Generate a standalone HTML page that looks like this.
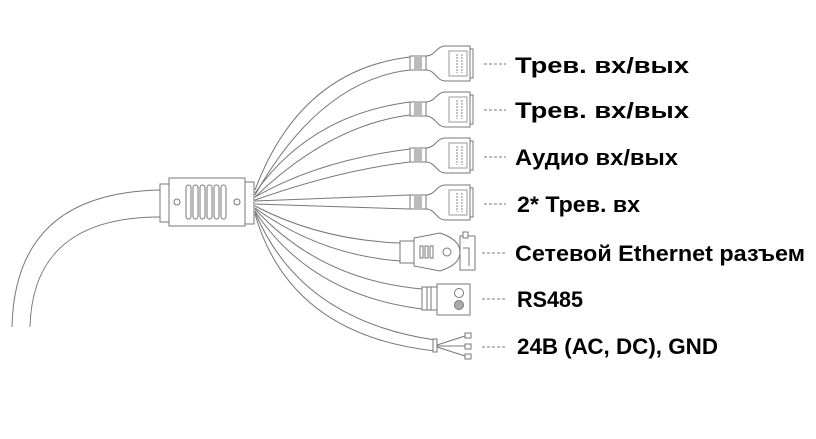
<!DOCTYPE html>
<html><head><meta charset="utf-8"><style>
html,body{margin:0;padding:0;background:#fff;width:816px;height:439px;overflow:hidden}
svg{display:block}
text{font-family:"Liberation Sans",sans-serif;font-weight:bold;font-size:22px;fill:#000}
</style></head><body>
<svg width="816" height="439" viewBox="0 0 816 439" xmlns="http://www.w3.org/2000/svg">
<defs>
<g id="c" fill="#fff" stroke="#777" stroke-width="1">
  <rect x="-55" y="-7" width="16" height="14"/>
  <rect x="-51" y="-7" width="8" height="14" fill="#bbb" stroke="none"/>
  <path d="M-39,-7 C-30,-7 -28,-17 -20,-17 L5,-17 L5,18 L-20,18 C-28,18 -30,7 -39,7 Z"/>
  <rect x="-16" y="-12" width="18" height="25" stroke="#999"/>
  <line x1="-8" y1="-9" x2="-8" y2="10" stroke="#888" stroke-dasharray="2,1"/>
  <line x1="-3" y1="-9" x2="-3" y2="10" stroke="#888" stroke-dasharray="2,1"/>
  <rect x="5" y="-14" width="3" height="29"/>
</g>
</defs>
<g fill="none" stroke="#777" stroke-width="1">
  <path d="M12,327 C14,240 60,192 160,190"/>
  <path d="M30,327 C32,250 80,217 160,217"/>
  <path d="M255,190 Q300,70 410,57"/><path d="M255,195 Q320,80 410,70"/>
  <path d="M255,193 Q310,115 410,102"/><path d="M255,197 Q330,125 410,115"/>
  <path d="M255,197 Q320,160 410,149"/><path d="M255,200 Q340,170 410,162"/>
  <path d="M255,201 L410,195"/><path d="M255,204 L410,209"/>
  <path d="M255,206 Q320,240 400,243"/><path d="M255,208 Q320,255 400,261"/>
  <path d="M255,209 Q320,280 422,289"/><path d="M255,211 Q310,295 422,309"/>
  <path d="M255,212 Q300,320 435,340"/><path d="M255,214 Q290,335 435,351"/>
</g>
<g fill="#fff" stroke="#777" stroke-width="1">
  <rect x="160" y="184" width="9" height="38"/>
  <rect x="169" y="178" width="76" height="48"/>
  <rect x="245" y="182" width="9" height="42"/>
  <circle cx="177" cy="202" r="3"/><circle cx="237" cy="202" r="3"/>
  <rect x="186" y="185" width="5" height="34" rx="2.5"/>
  <rect x="193" y="185" width="5" height="34" rx="2.5"/>
  <rect x="200" y="185" width="5" height="34" rx="2.5"/>
  <rect x="207" y="185" width="5" height="34" rx="2.5"/>
  <rect x="214" y="185" width="5" height="34" rx="2.5"/>
  <rect x="221" y="185" width="5" height="34" rx="2.5"/>
</g>
<use href="#c" x="465" y="63"/>
<use href="#c" x="465" y="109"/>
<use href="#c" x="465" y="155"/>
<use href="#c" x="465" y="202"/>
<g fill="#fff" stroke="#777" stroke-width="1">
  <rect x="400" y="241" width="14" height="22"/>
  <path d="M414,238 L440,233 C455,238 460,245 460,252 C460,260 455,266 440,271 L414,266 Z"/>
  <circle cx="447" cy="252" r="4"/>
  <rect x="420" y="246" width="3" height="12"/><rect x="425" y="246" width="3" height="12"/><rect x="430" y="246" width="3" height="12"/>
  <rect x="460" y="236" width="15" height="34"/>
  <rect x="463" y="232" width="5" height="6"/>
  <path d="M463,248 L469,248 L469,266"/>
</g>
<g fill="#fff" stroke="#777" stroke-width="1">
  <rect x="422" y="287" width="15" height="23"/>
  <line x1="427" y1="287" x2="427" y2="310"/><line x1="431" y1="287" x2="431" y2="310"/>
  <rect x="437" y="284" width="33" height="31"/>
  <circle cx="459" cy="293" r="4.5"/><circle cx="459" cy="305" r="4.5" fill="#aaa"/>
</g>
<g stroke="#777" fill="#fff">
  <rect x="433" y="339" width="4" height="13"/>
  <path d="M437,345 L465,336 M437,346 L465,346 M437,347 L465,356" fill="none"/>
  <rect x="465" y="333" width="6" height="5"/><rect x="465" y="344" width="6" height="5"/><rect x="465" y="354" width="6" height="5"/>
</g>
<g stroke="#777" stroke-width="1" stroke-dasharray="3,2">
  <line x1="484" y1="64" x2="506" y2="64"/>
  <line x1="484" y1="110" x2="506" y2="110"/>
  <line x1="484" y1="157" x2="506" y2="157"/>
  <line x1="484" y1="204" x2="506" y2="204"/>
  <line x1="482" y1="253" x2="506" y2="253"/>
  <line x1="482" y1="299" x2="506" y2="299"/>
  <line x1="482" y1="347" x2="506" y2="347"/>
</g>
<text x="515" y="73" textLength="174" lengthAdjust="spacingAndGlyphs">Трев. вх/вых</text>
<text x="515" y="118" textLength="174" lengthAdjust="spacingAndGlyphs">Трев. вх/вых</text>
<text x="515" y="165" textLength="163" lengthAdjust="spacingAndGlyphs">Аудио вх/вых</text>
<text x="517" y="212" textLength="123" lengthAdjust="spacingAndGlyphs">2* Трев. вх</text>
<text x="515" y="261" textLength="290" lengthAdjust="spacingAndGlyphs">Сетевой Ethernet разъем</text>
<text x="517" y="307" textLength="66" lengthAdjust="spacingAndGlyphs">RS485</text>
<text x="517" y="354" textLength="201" lengthAdjust="spacingAndGlyphs">24В (АС, DC), GND</text>
</svg>
</body></html>
